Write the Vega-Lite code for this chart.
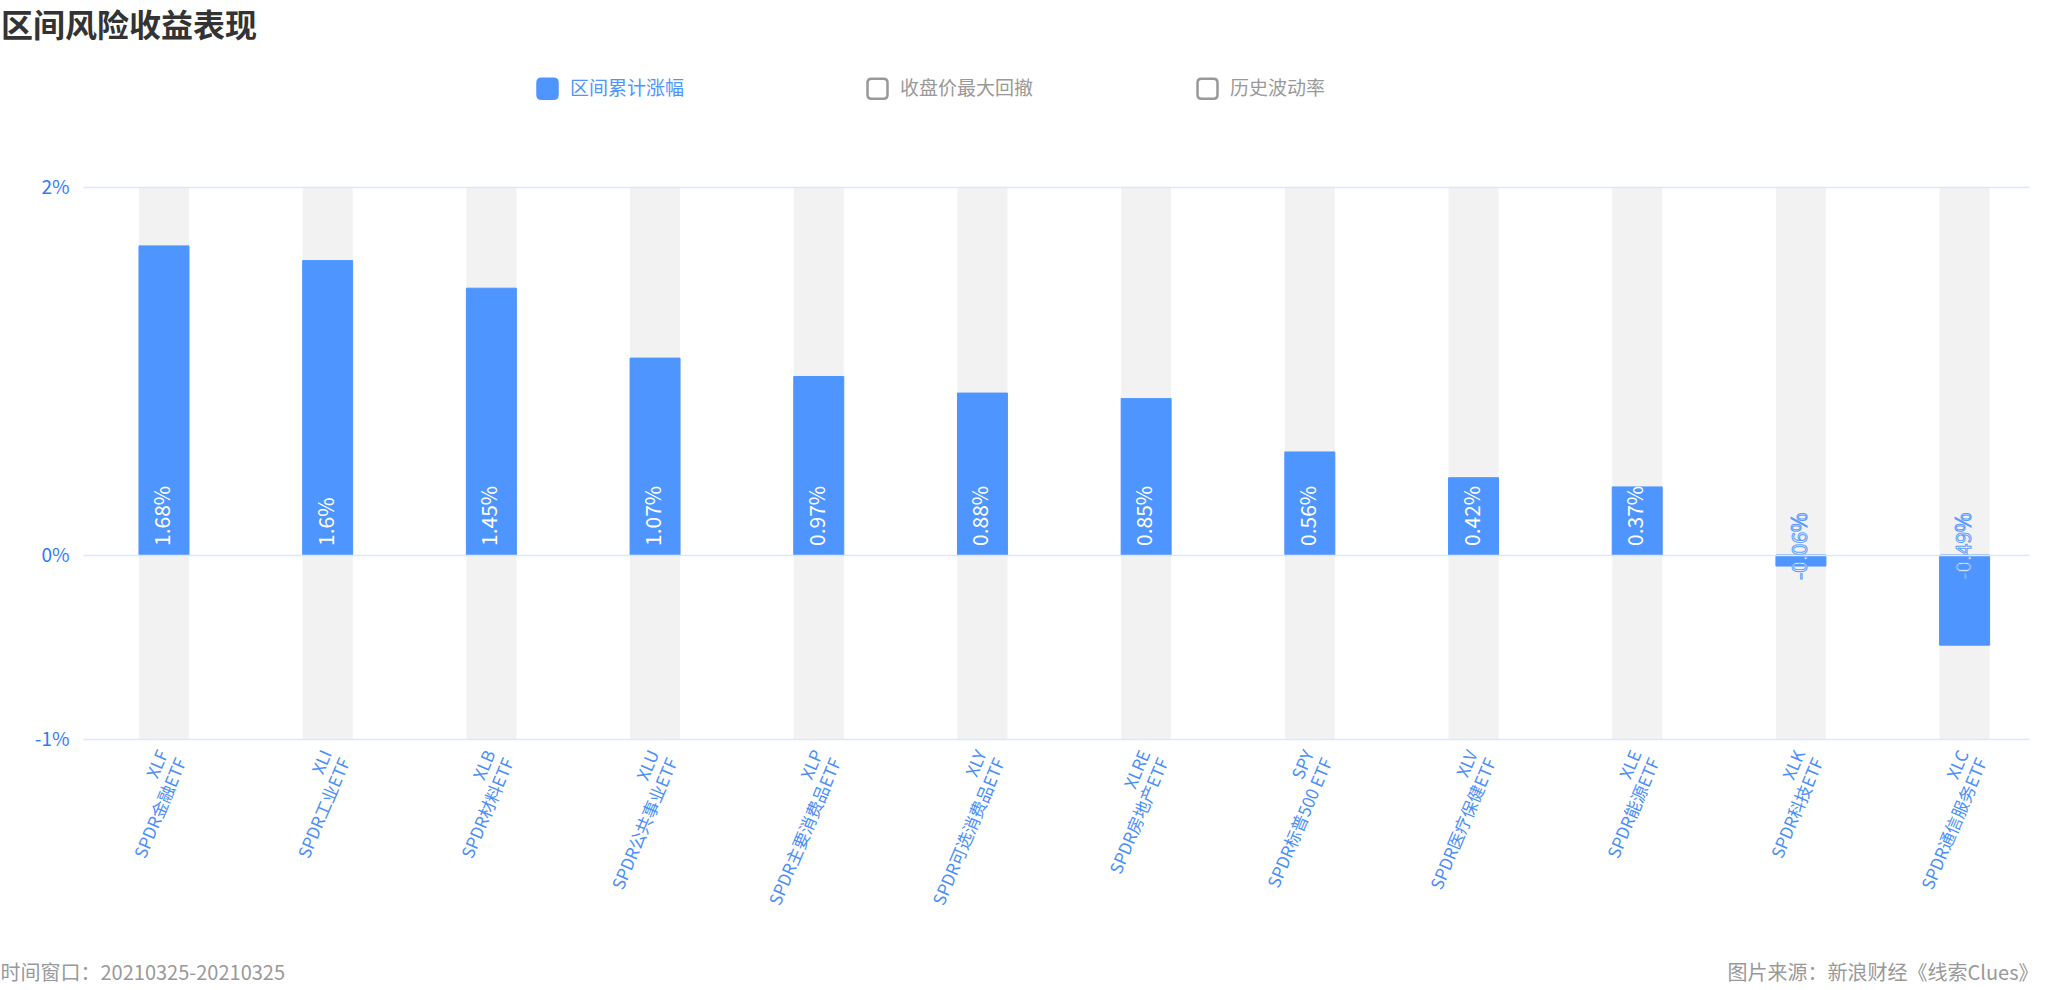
{
  "$schema": "https://vega.github.io/schema/vega-lite/v6.json",
  "width": 1946,
  "height": 552,
  "autosize": {"type": "none"},
  "padding": {"left": 83, "top": 187, "right": 17, "bottom": 251},
  "background": "white",
  "config": {
    "font": "Noto Sans CJK SC",
    "view": {"stroke": null},
    "locale": {"number": {"decimal": ".", "thousands": ",", "grouping": [3], "currency": ["", ""], "minus": "-"}},
    "legend": {
      "symbolStrokeWidth": 2.5
    }
  },
  "title": {
    "text": "区间风险收益表现",
    "anchor": "start",
    "frame": "group",
    "fontSize": 32,
    "fontWeight": "bold",
    "color": "#333333",
    "dx": -82,
    "dy": -33,
    "offset": 0
  },
  "data": {
    "values": [
      {"label": "XLF|SPDR金融ETF", "v": 0.0168},
      {"label": "XLI|SPDR工业ETF", "v": 0.016},
      {"label": "XLB|SPDR材料ETF", "v": 0.0145},
      {"label": "XLU|SPDR公共事业ETF", "v": 0.0107},
      {"label": "XLP|SPDR主要消费品ETF", "v": 0.0097},
      {"label": "XLY|SPDR可选消费品ETF", "v": 0.0088},
      {"label": "XLRE|SPDR房地产ETF", "v": 0.0085},
      {"label": "SPY|SPDR标普500 ETF", "v": 0.0056},
      {"label": "XLV|SPDR医疗保健ETF", "v": 0.0042},
      {"label": "XLE|SPDR能源ETF", "v": 0.0037},
      {"label": "XLK|SPDR科技ETF", "v": -0.0006},
      {"label": "XLC|SPDR通信服务ETF", "v": -0.0049}
    ]
  },
  "encoding": {
    "x": {
      "field": "label",
      "type": "nominal",
      "sort": null,
      "scale": {"paddingInner": 0.6946, "paddingOuter": 0.2913, "align": 0.587},
      "axis": {
        "title": "时间窗口：20210325-20210325",
        "titleX": -83,
        "titleY": 240,
        "titleAlign": "left",
        "titleAngle": 0,
        "titleBaseline": "alphabetic",
        "titleFontSize": 20,
        "titleFontWeight": "normal",
        "titleColor": "#999999",
        "labelExpr": "split(datum.label, '|')",
        "labelAngle": -67,
        "labelAlign": "right",
        "labelBaseline": "middle",
        "labelFontSize": 17,
        "labelLineHeight": 20,
        "labelColor": "#4a8ef8",
        "labelPadding": 12,
        "labelOverlap": false,
        "labelLimit": 0,
        "labelBound": false,
        "domain": false,
        "ticks": false,
        "grid": false
      }
    }
  },
  "layer": [
    {
      "mark": {"type": "bar", "color": "#f2f2f2"},
      "encoding": {
        "y": {
          "datum": 0.02,
          "type": "quantitative",
          "scale": {"domain": [-0.01, 0.02], "nice": false, "zero": false},
          "axis": {
            "values": [-0.01, 0, 0.02],
            "format": ".0%",
            "labelFontSize": 19,
            "labelColor": "#2f7cf6",
            "labelPadding": 14,
            "grid": true,
            "gridColor": "#d9e8fb",
            "gridWidth": 1.5,
            "ticks": false,
            "domain": false,
            "zindex": 1,
            "title": "图片来源：新浪财经《线索Clues》",
            "titleX": 1955,
            "titleY": 792,
            "titleAngle": 0,
            "titleAlign": "right",
            "titleBaseline": "alphabetic",
            "titleFontSize": 20,
            "titleFontWeight": "normal",
            "titleColor": "#999999"
          }
        },
        "y2": {"datum": -0.01}
      }
    },
    {
      "mark": {"type": "bar"},
      "encoding": {
        "y": {"field": "v", "type": "quantitative"},
        "y2": {"datum": 0},
        "fill": {
          "datum": "区间累计涨幅",
          "type": "nominal",
          "scale": {
            "domain": ["区间累计涨幅", "收盘价最大回撤", "历史波动率"],
            "range": ["#4e95ff", "#ffffff", "#ffffff"]
          },
          "legend": {
            "orient": "none",
            "legendX": 453,
            "legendY": -110,
            "direction": "horizontal",
            "columns": 3,
            "title": null,
            "gridAlign": "all",
            "columnPadding": 158,
            "padding": 0,
            "symbolType": "M -0.6 -1 L 0.6 -1 Q 1 -1 1 -0.6 L 1 0.6 Q 1 1 0.6 1 L -0.6 1 Q -1 1 -1 0.6 L -1 -0.6 Q -1 -1 -0.6 -1 Z",
            "symbolSize": 400,
            "symbolStrokeWidth": 2.5,
            "labelFontSize": 19,
            "labelOffset": 11,
            "labelColor": {"expr": "datum.value === '区间累计涨幅' ? '#4e95ff' : '#999999'"}
          }
        },
        "stroke": {
          "datum": "区间累计涨幅",
          "type": "nominal",
          "scale": {
            "domain": ["区间累计涨幅", "收盘价最大回撤", "历史波动率"],
            "range": ["#4e95ff", "#999999", "#999999"]
          },
          "legend": {
            "orient": "none",
            "legendX": 453,
            "legendY": -110,
            "direction": "horizontal",
            "columns": 3,
            "title": null,
            "gridAlign": "all",
            "columnPadding": 158,
            "padding": 0,
            "symbolType": "M -0.6 -1 L 0.6 -1 Q 1 -1 1 -0.6 L 1 0.6 Q 1 1 0.6 1 L -0.6 1 Q -1 1 -1 0.6 L -1 -0.6 Q -1 -1 -0.6 -1 Z",
            "symbolSize": 400,
            "symbolStrokeWidth": 2.5,
            "labelFontSize": 19,
            "labelOffset": 11,
            "labelColor": {"expr": "datum.value === '区间累计涨幅' ? '#4e95ff' : '#999999'"}
          }
        }
      }
    },
    {
      "transform": [{"filter": "datum.v >= 0"}],
      "mark": {"type": "text", "angle": 270, "align": "left", "baseline": "middle", "dx": 9, "fontSize": 21, "color": "#ffffff"},
      "encoding": {
        "y": {"datum": 0, "type": "quantitative"},
        "text": {"field": "v", "type": "quantitative", "format": ".2~%"}
      }
    },
    {
      "transform": [{"filter": "datum.v < 0"}],
      "mark": {"type": "text", "angle": 270, "align": "left", "baseline": "middle", "dx": -25, "fontSize": 21, "fill": "#ffffff", "stroke": "#5b9cff", "strokeWidth": 1},
      "encoding": {
        "y": {"datum": 0, "type": "quantitative"},
        "text": {"field": "v", "type": "quantitative", "format": ".2~%"}
      }
    }
  ]
}
